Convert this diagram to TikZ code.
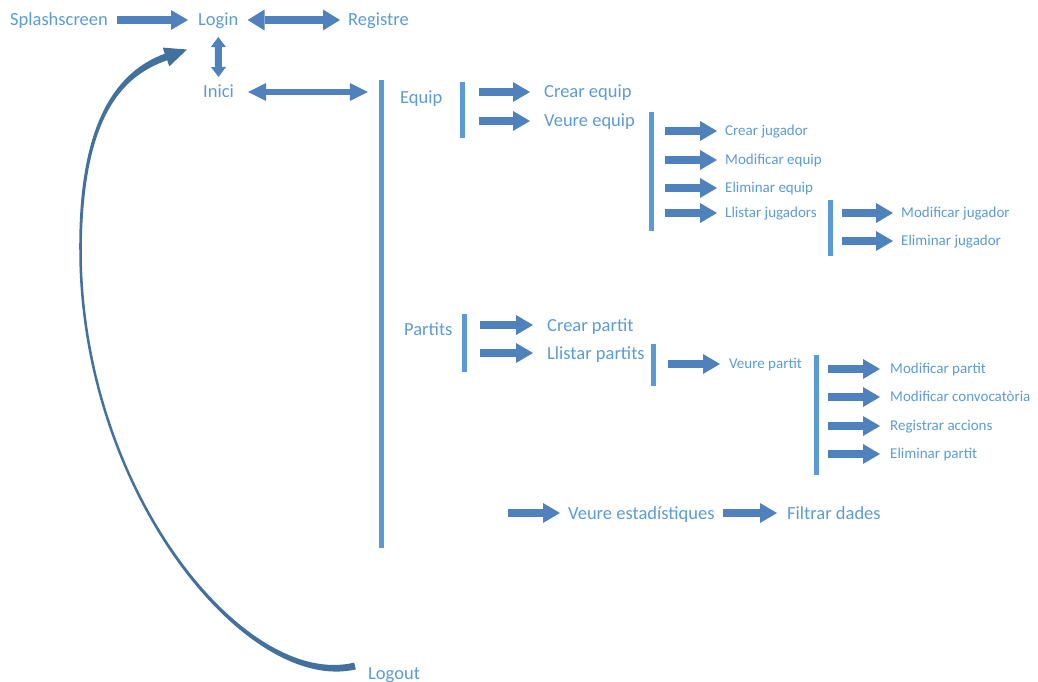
\documentclass[tikz,border=0pt]{standalone}
\usepackage{fontspec}
\setmainfont{Carlito}
\usetikzlibrary{arrows.meta}
\definecolor{txtc}{HTML}{5B9BD5}
\definecolor{arrc}{HTML}{4F81BD}
\definecolor{barc}{HTML}{5B9BD5}
\definecolor{curc}{HTML}{41719C}
\begin{document}
\begin{tikzpicture}[x=1pt,y=-1pt,
  lbl/.style={anchor=west,inner sep=0pt,text=txtc,font=\fontsize{18.5}{22}\selectfont,text height=12pt,text depth=0pt},
  slbl/.style={anchor=west,inner sep=0pt,text=txtc,font=\fontsize{15}{18}\selectfont,text height=9.7pt,text depth=0pt},
  vbar/.style={fill=barc,inner sep=0pt,minimum width=5pt},
  barrow/.style={draw=arrc,line width=8.5pt,-{Triangle[length=17pt,width=20pt,line width=0pt]}},
  darrow/.style={draw=arrc,line width=8pt,{Triangle[length=17pt,width=21pt,line width=0pt]}-{Triangle[length=17pt,width=21pt,line width=0pt]}},
  darrowb/.style={draw=arrc,line width=6.5pt,{Triangle[length=18pt,width=18pt,line width=0pt]}-{Triangle[length=18pt,width=18pt,line width=0pt]}},
  vdarrow/.style={draw=arrc,line width=7pt,{Triangle[length=10pt,width=15pt,line width=0pt]}-{Triangle[length=10pt,width=15pt,line width=0pt]}},
]
\useasboundingbox (0,0) rectangle (1038,682);

% labels (large)
\node[lbl] (splash) at (10,20) {Splashscreen};
\node[lbl] (login) at (198,20) {Login};
\node[lbl] (reg) at (348,20) {Registre};
\node[lbl] (inici) at (203,92) {Inici};
\node[lbl] (equip) at (400,97) {Equip};
\node[lbl] (crequip) at (544,92) {Crear equip};
\node[lbl] (vequip) at (544,121) {Veure equip};
\node[lbl] (partits) at (404,329) {Partits};
\node[lbl] (crpart) at (547,325) {Crear partit};
\node[lbl] (llpart) at (547,353) {Llistar partits};
\node[lbl] (vest) at (568,513) {Veure estadístiques};
\node[lbl] (filt) at (787,513) {Filtrar dades};
\node[lbl] (logout) at (368,673) {Logout};

% labels (small)
\node[slbl] (crjug) at (725,131) {Crear jugador};
\node[slbl] (modeq) at (725,160) {Modificar equip};
\node[slbl] (elimeq) at (725,188) {Eliminar equip};
\node[slbl] (lljug) at (725,213) {Llistar jugadors};
\node[slbl] (modjug) at (901,213) {Modificar jugador};
\node[slbl] (elimjug) at (901,241) {Eliminar jugador};
\node[slbl] (vpart) at (729,364) {Veure partit};
\node[slbl] (modpart) at (890,369) {Modificar partit};
\node[slbl] (modconv) at (890,397) {Modificar convocatòria};
\node[slbl] (regacc) at (890,426) {Registrar accions};
\node[slbl] (elimpart) at (890,454) {Eliminar partit};

% bars
\node[vbar,minimum height=468pt] (bigbar) at (381,314) {};
\node[vbar,minimum height=56pt] (eqbar) at (462.5,110) {};
\node[vbar,minimum height=119pt] (vebar) at (651,171.5) {};
\node[vbar,minimum height=56pt] (ljbar) at (830,228) {};
\node[vbar,minimum height=58pt] (pabar) at (464.5,343) {};
\node[vbar,minimum height=42pt] (lpbar) at (653,364.5) {};
\node[vbar,minimum height=120pt] (vpbar) at (816,414.5) {};

% top arrows
\draw[barrow,shorten <=9pt,shorten >=10pt] (splash.east) -- (login.west);
\draw[darrow,shorten <=9pt,shorten >=8pt] (login.east) -- (reg.west);
\draw[vdarrow] ([yshift=-17pt]login.center) -- ([yshift=15pt]inici.center);
\draw[darrowb,shorten <=14pt,shorten >=10.5pt] (inici.east) -- (bigbar.west |- inici.east);

% Equip
\foreach \t in {crequip,vequip}
  \draw[barrow,shorten <=13.5pt,shorten >=14pt] (eqbar.east |- \t.west) -- (\t.west);
\foreach \t in {crjug,modeq,elimeq,lljug}
  \draw[barrow,shorten <=11.5pt,shorten >=8pt] (vebar.east |- \t.west) -- (\t.west);
\foreach \t in {modjug,elimjug}
  \draw[barrow,shorten <=9.5pt,shorten >=8pt] (ljbar.east |- \t.west) -- (\t.west);

% Partits
\foreach \t in {crpart,llpart}
  \draw[barrow,shorten <=13pt,shorten >=14pt] (pabar.east |- \t.west) -- (\t.west);
\draw[barrow,shorten <=12.5pt,shorten >=9pt] (lpbar.east |- vpart.west) -- (vpart.west);
\foreach \t in {modpart,modconv,regacc,elimpart}
  \draw[barrow,shorten <=9.5pt,shorten >=10pt] (vpbar.east |- \t.west) -- (\t.west);

% estadistiques
\coordinate (vsrc) at (508,513);
\draw[barrow,shorten >=8pt] (vsrc) -- (vest.west);
\draw[barrow,shorten <=8.5pt,shorten >=10pt] (vest.east) -- (filt.west);

% Logout curve back to Login (tapered)
\fill[curc] (355.8,669.4) .. controls (245,695) and (79,490) .. (79.25,250)
  .. controls (78.5,120) and (117.9,70.9) .. (164.8,53.7)
  -- (162.7,47.6) -- (187,49.5) -- (169.3,66.4) -- (167.2,60.3)
  .. controls (119.9,76.5) and (82.5,120) .. (81.75,250)
  .. controls (82,490) and (245,689) .. (354.2,662.6) -- cycle;
\end{tikzpicture}
\end{document}
